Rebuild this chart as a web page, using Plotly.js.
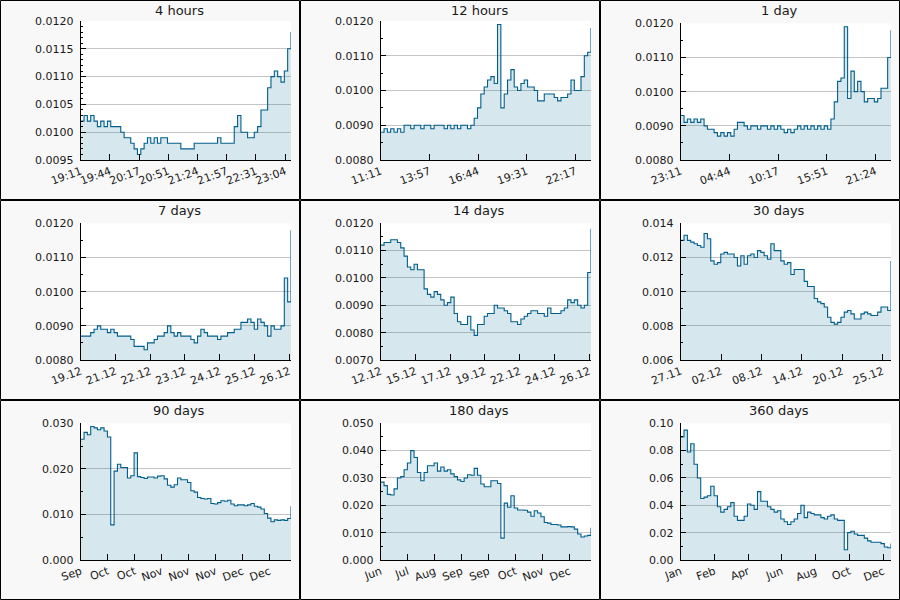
<!DOCTYPE html>
<html><head><meta charset="utf-8">
<script src="https://cdn.plot.ly/plotly-3.0.1.min.js"></script>
<style>html,body{margin:0;padding:0;background:#f8f8f8}#chart{width:900px;height:600px}</style>
</head><body><div id="chart"></div>
<script>
// ---- chart data ----
const panelTitles = ['4 hours','12 hours','1 day','7 days','14 days','30 days','90 days','180 days','360 days'];

const labels4h   = ['19:11','19:44','20:17','20:51','21:24','21:57','22:31','23:04'];
const labels12h  = ['11:11','13:57','16:44','19:31','22:17'];
const labels1d   = ['23:11','04:44','10:17','15:51','21:24'];
const labels7d   = ['19.12','21.12','22.12','23.12','24.12','25.12','26.12'];
const labels14d  = ['12.12','15.12','17.12','19.12','22.12','24.12','26.12'];
const labels30d  = ['27.11','02.12','08.12','14.12','20.12','25.12'];
const labels90d  = ['Sep','Oct','Oct','Nov','Nov','Nov','Dec','Dec'];
const labels180d = ['Jun','Jul','Aug','Sep','Sep','Oct','Nov','Dec'];
const labels360d = ['Jan','Feb','Apr','Jun','Aug','Oct','Dec'];

// time span of each panel (minutes for the first three, days for the rest) and tick interval in same unit
const spans     = [240, 720, 1440, 7, 14, 30, 90, 180, 360];
const tickSteps = [33.333, 166.667, 333.333, 1.157, 2.314, 5.76, 11.54, 23.08, 57.8];

const values4h = [0.0102,0.0103,0.0102,0.0103,0.0102,0.0101,0.0102,0.0101,0.0102,0.0101,
 0.0101,0.0101,0.0100,0.0099,0.0099,0.0098,0.0097,0.0096,0.0097,0.0098,
 0.0099,0.0098,0.0099,0.0098,0.0099,0.0099,0.0098,0.0098,0.0098,0.0098,
 0.0097,0.0097,0.0097,0.0097,0.0098,0.0098,0.0098,0.0098,0.0098,0.0098,
 0.0098,0.0099,0.0098,0.0098,0.0098,0.0098,0.0101,0.0103,0.0100,0.0100,
 0.0099,0.0099,0.0100,0.0101,0.0104,0.0104,0.0108,0.0110,0.0111,0.0110,
 0.0109,0.0111,0.0115,0.0118];
const values12h = [0.0088,0.0089,0.0088,0.0089,0.0088,0.0089,0.0088,0.0090,0.0090,0.0089,
 0.0090,0.0090,0.0089,0.0090,0.0090,0.0089,0.0090,0.0090,0.0090,0.0089,
 0.0090,0.0089,0.0090,0.0089,0.0090,0.0090,0.0089,0.0090,0.0092,0.0095,
 0.0099,0.0101,0.0103,0.0104,0.0102,0.0119,0.0095,0.0099,0.0103,0.0106,
 0.0101,0.0100,0.0102,0.0103,0.0101,0.0101,0.0100,0.0097,0.0097,0.0099,
 0.0099,0.0099,0.0098,0.0097,0.0098,0.0098,0.0099,0.0103,0.0100,0.0100,
 0.0104,0.0110,0.0111,0.0118];
const values1d = [0.0093,0.0091,0.0092,0.0091,0.0092,0.0091,0.0092,0.0090,0.0089,0.0089,
 0.0088,0.0087,0.0088,0.0087,0.0088,0.0087,0.0089,0.0091,0.0091,0.0090,
 0.0089,0.0090,0.0090,0.0089,0.0090,0.0090,0.0089,0.0090,0.0089,0.0090,
 0.0089,0.0088,0.0089,0.0088,0.0089,0.0090,0.0089,0.0090,0.0089,0.0090,
 0.0089,0.0090,0.0089,0.0090,0.0089,0.0092,0.0097,0.0103,0.0104,0.0119,
 0.0098,0.0106,0.0100,0.0103,0.0100,0.0097,0.0098,0.0098,0.0097,0.0098,
 0.0101,0.0101,0.0110,0.0118];
const values7d = [0.0087,0.0087,0.0087,0.0088,0.0089,0.0090,0.0089,0.0089,0.0088,0.0089,
 0.0088,0.0087,0.0087,0.0087,0.0087,0.0086,0.0084,0.0084,0.0084,0.0083,
 0.0085,0.0085,0.0086,0.0087,0.0087,0.0088,0.0090,0.0088,0.0087,0.0088,
 0.0087,0.0087,0.0087,0.0086,0.0085,0.0087,0.0089,0.0088,0.0087,0.0087,
 0.0087,0.0086,0.0087,0.0087,0.0088,0.0088,0.0089,0.0089,0.0091,0.0091,
 0.0092,0.0091,0.0089,0.0092,0.0091,0.0090,0.0087,0.0090,0.0089,0.0089,
 0.0090,0.0104,0.0097,0.0118];
const values14d = [0.0112,0.0113,0.0113,0.0114,0.0114,0.0113,0.0111,0.0108,0.0104,0.0103,
 0.0105,0.0103,0.0103,0.0096,0.0094,0.0093,0.0095,0.0094,0.0092,0.0090,
 0.0091,0.0093,0.0087,0.0084,0.0083,0.0083,0.0086,0.0081,0.0079,0.0083,
 0.0083,0.0086,0.0087,0.0087,0.0090,0.0089,0.0089,0.0088,0.0087,0.0084,
 0.0084,0.0083,0.0085,0.0086,0.0087,0.0088,0.0088,0.0087,0.0087,0.0086,
 0.0089,0.0087,0.0087,0.0087,0.0088,0.0089,0.0092,0.0091,0.0092,0.0090,
 0.0089,0.0090,0.0102,0.0118];
const values30d = [0.0130,0.0133,0.0130,0.0129,0.0128,0.0127,0.0126,0.0134,0.0131,0.0118,
 0.0116,0.0117,0.0122,0.0123,0.0122,0.0122,0.0120,0.0115,0.0121,0.0116,
 0.0121,0.0122,0.0120,0.0124,0.0123,0.0121,0.0119,0.0128,0.0124,0.0124,
 0.0118,0.0116,0.0117,0.0110,0.0113,0.0113,0.0113,0.0106,0.0103,0.0103,
 0.0096,0.0094,0.0093,0.0091,0.0085,0.0082,0.0081,0.0082,0.0085,0.0088,
 0.0089,0.0087,0.0084,0.0084,0.0087,0.0088,0.0087,0.0086,0.0086,0.0088,
 0.0091,0.0091,0.0089,0.0118];
const values90d = [0.0265,0.0280,0.0275,0.0293,0.0290,0.0286,0.0290,0.0283,0.0270,0.0077,
 0.0195,0.0210,0.0203,0.0203,0.0180,0.0185,0.0235,0.0183,0.0181,0.0179,
 0.0182,0.0182,0.0180,0.0184,0.0185,0.0178,0.0164,0.0160,0.0165,0.0180,
 0.0176,0.0176,0.0170,0.0152,0.0149,0.0137,0.0135,0.0134,0.0135,0.0124,
 0.0123,0.0126,0.0130,0.0129,0.0131,0.0123,0.0119,0.0121,0.0121,0.0119,
 0.0121,0.0124,0.0118,0.0116,0.0112,0.0102,0.0092,0.0084,0.0088,0.0087,
 0.0088,0.0087,0.0091,0.0118];
const values180d = [0.0285,0.0272,0.0240,0.0238,0.0260,0.0300,0.0305,0.0330,0.0355,0.0400,
 0.0375,0.0320,0.0290,0.0320,0.0345,0.0345,0.0355,0.0325,0.0340,0.0325,
 0.0330,0.0315,0.0305,0.0293,0.0287,0.0300,0.0312,0.0310,0.0335,0.0310,
 0.0278,0.0268,0.0268,0.0290,0.0290,0.0280,0.0080,0.0208,0.0193,0.0235,
 0.0190,0.0183,0.0183,0.0182,0.0175,0.0160,0.0180,0.0172,0.0158,0.0137,
 0.0135,0.0130,0.0130,0.0128,0.0121,0.0121,0.0122,0.0121,0.0113,0.0095,
 0.0084,0.0088,0.0090,0.0118];
const values360d = [0.090,0.095,0.079,0.085,0.070,0.060,0.045,0.046,0.047,0.054,
 0.047,0.039,0.035,0.037,0.039,0.042,0.032,0.029,0.029,0.032,
 0.041,0.040,0.037,0.050,0.043,0.043,0.039,0.037,0.035,0.036,
 0.030,0.028,0.026,0.028,0.030,0.034,0.040,0.031,0.035,0.034,
 0.033,0.033,0.031,0.030,0.032,0.033,0.030,0.029,0.029,0.0075,
 0.020,0.021,0.019,0.018,0.018,0.016,0.014,0.013,0.013,0.013,
 0.012,0.0095,0.009,0.012];

const yMins  = [0.0095, 0.0080, 0.0080, 0.0080, 0.0070, 0.006, 0.000, 0.000, 0.00];
const yMaxs  = [0.0120, 0.0120, 0.0120, 0.0120, 0.0120, 0.014, 0.030, 0.050, 0.10];
const ySteps = [0.0005, 0.0010, 0.0010, 0.0010, 0.0010, 0.002, 0.010, 0.010, 0.02];
const yMinor = [0.0001, 0.0005, 0.0005, 0.0005, 0.0005, 0.001, 0.005, 0.005, 0.01];
const yFormats = ['.4f','.4f','.4f','.4f','.4f','.3f','.3f','.3f','.2f'];

const allValues = [values4h, values12h, values1d, values7d, values14d, values30d, values90d, values180d, values360d];
const allLabels = [labels4h, labels12h, labels1d, labels7d, labels14d, labels30d, labels90d, labels180d, labels360d];

// ---- build ----
const W = 900, H = 600;
const FONT = 'DejaVu Sans';
const traces = [];
const layout = {
  width: W, height: H, margin: {l:0, r:0, t:0, b:0},
  paper_bgcolor: '#f8f8f8', plot_bgcolor: '#ffffff',
  showlegend: false, shapes: [], annotations: [],
  font: {family: FONT, size: 11, color: '#1a1a1a'}
};

for (let k = 0; k < 9; k++) {
  const r = Math.floor(k / 3), c = k % 3;
  const vals = allValues[k];
  const n = vals.length;
  const xs = vals.map((_, i) => i * spans[k] / (n - 1));
  const ax = k === 0 ? '' : String(k + 1);
  traces.push({
    type: 'scatter', mode: 'lines', x: xs, y: vals,
    xaxis: 'x' + ax, yaxis: 'y' + ax,
    line: {color: '#005f8c', width: 1.1, shape: 'hv'},
    fill: 'tozeroy', fillcolor: 'rgba(0,105,148,0.16)',
    hoverinfo: 'skip'
  });
  const left = c * 300 + 80.7, right = c * 300 + 291;
  const top = r * 200 + ((r === 0 && c < 2) ? 21 : 23.3), bottom = r * 200 + 160;
  const labs = allLabels[k];
  layout['xaxis' + ax] = {
    domain: [left / W, right / W], anchor: 'y' + ax,
    range: [0, spans[k]], fixedrange: true,
    showline: true, linecolor: '#000', linewidth: 1,
    ticks: 'inside', ticklen: 6, tickcolor: '#000', tickwidth: 1,
    tickvals: labs.map((_, i) => i * tickSteps[k]), ticktext: labs,
    tickangle: -20, tickfont: {family: FONT, size: 11, color: '#1a1a1a'},
    showgrid: false, zeroline: false
  };
  layout['yaxis' + ax] = {
    domain: [1 - bottom / H, 1 - top / H], anchor: 'x' + ax,
    range: [yMins[k], yMaxs[k]], fixedrange: true,
    tick0: yMins[k], dtick: ySteps[k], tickformat: yFormats[k],
    showline: true, linecolor: '#000', linewidth: 1,
    ticks: 'inside', ticklen: 5, tickcolor: '#000', tickwidth: 1,
    minor: {dtick: yMinor[k], tick0: yMins[k], ticks: 'inside', ticklen: 2.5, tickcolor: '#000', showgrid: false},
    tickfont: {family: FONT, size: 11, color: '#1a1a1a'},
    showgrid: true, gridcolor: '#c4c4c4', gridwidth: 1, zeroline: false,
    ticklabelstandoff: 4
  };
  layout.shapes.push({
    type: 'rect', xref: 'paper', yref: 'paper', layer: 'above',
    x0: (c * 300 + 0.5) / W, x1: (c * 300 + 299.5) / W,
    y0: 1 - (r * 200 + 199.5) / H, y1: 1 - (r * 200 + 0.5) / H,
    line: {color: '#000', width: 1}
  });
  layout.annotations.push({
    xref: 'paper', yref: 'paper', x: (c * 300 + 179) / W, y: 1 - (r * 200 + 10.5) / H,
    xanchor: 'center', yanchor: 'middle', showarrow: false,
    text: panelTitles[k], font: {family: FONT, size: 13, color: '#1a1a1a'}
  });
}

Plotly.newPlot('chart', traces, layout, {staticPlot: true, displayModeBar: false});
</script>
</body></html>
